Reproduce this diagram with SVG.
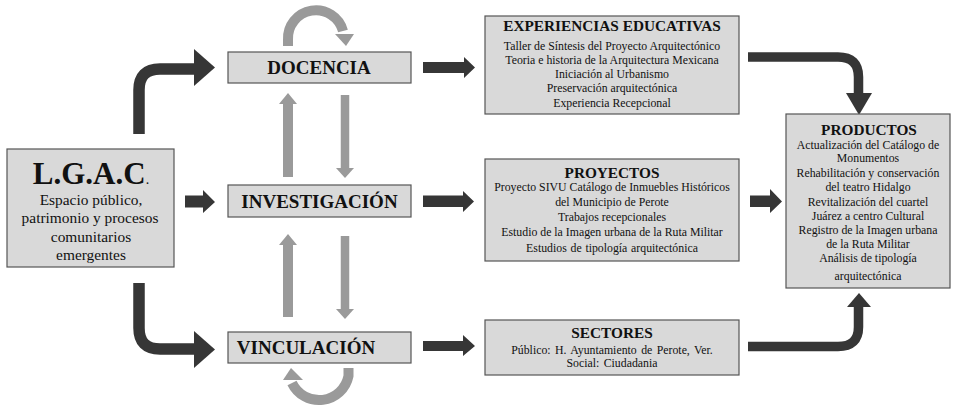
<svg xmlns="http://www.w3.org/2000/svg" width="953" height="406" viewBox="0 0 953 406">
<style>
.box{fill:#d9d9d9;stroke:#555;stroke-width:1.2}
.t{font-family:"Liberation Serif","Times New Roman",serif;fill:#111;text-anchor:middle}
.b{font-weight:bold}
.axis{font-size:19px;font-weight:bold}
.ttl{font-size:15.3px;font-weight:bold}
.bd{font-size:11.8px}
.blk{fill:none;stroke:#363636;stroke-width:11.5}
.blkh{fill:#363636}
.gry{fill:none;stroke:#9a9a9a;stroke-width:10}
.gryh{fill:#9a9a9a}
</style>
<rect width="953" height="406" fill="#fff"/>
<g id="connectors">
  <path class="blk" d="M139,134 L139,90 Q139,69 160,69 L198,69"/>
  <polygon class="blkh" points="194,49 215,67.5 194,86"/>
  <polygon class="blkh" points="185,195.5 203,195.5 203,190 215,202 203,213 203,207.5 185,207.5"/>
  <path class="blk" d="M139,283 L139,328 Q139,349 160,349 L198,349"/>
  <polygon class="blkh" points="194,331 215,349.5 194,368"/>
  <polygon class="blkh" points="423,62 464,62 464,57 475,67.5 464,78 464,73 423,73"/>
  <polygon class="blkh" points="423,195.5 463,195.5 463,191 474,201.5 463,212 463,207 423,207"/>
  <polygon class="blkh" points="423,341 463,341 463,335 475,346 463,356 463,351 423,351"/>
  <path class="blk" d="M748,57 L838,57 Q858.5,57 858.5,77 L858.5,95" style="stroke-width:9.5"/>
  <polygon class="blkh" points="846,93 872,93 859,115"/>
  <polygon class="blkh" points="750,195.5 770,195.5 770,189 782,201.5 770,213 770,207 750,207"/>
  <path class="blk" d="M748,346.5 L838,346.5 Q858.5,346.5 858.5,327 L858.5,305" style="stroke-width:9.5"/>
  <polygon class="blkh" points="847,307 871,307 859,293"/>
  <path class="gry" d="M288,46 L288,40 A28,28 0 0 1 343,31"/>
  <polygon class="gryh" points="335,34 354,34 346,46"/>
  <path class="gry" d="M348.5,368 L348.5,376 A30,30 0 0 1 292,383"/>
  <polygon class="gryh" points="283,380 303,380 291,368"/>
  <line class="gry" x1="288" y1="177" x2="288" y2="102"/>
  <polygon class="gryh" points="279,104 297,104 288,93"/>
  <line class="gry" x1="345" y1="95" x2="345" y2="169" style="stroke-width:8.5"/>
  <polygon class="gryh" points="336,168 354,168 345,178"/>
  <line class="gry" x1="288" y1="317" x2="288" y2="243"/>
  <polygon class="gryh" points="279,245 297,245 288,234"/>
  <line class="gry" x1="345" y1="236" x2="345" y2="310" style="stroke-width:8.5"/>
  <polygon class="gryh" points="336,309 354,309 345,319"/>
</g>
<g id="lgac">
  <rect class="box" x="7" y="149" width="167" height="118"/>
  <text class="t b" x="91" y="184" style="font-size:31px">L.G.A.C<tspan style="font-weight:normal;font-size:14px">.</tspan></text>
  <text class="t" style="font-size:15.4px" x="91" y="205">Espacio público,</text>
  <text class="t" style="font-size:15.4px" x="90" y="223">patrimonio y procesos</text>
  <text class="t" style="font-size:15.4px" x="91" y="242">comunitarios</text>
  <text class="t" style="font-size:15.4px" x="91" y="260">emergentes</text>
</g>
<g id="docencia">
  <rect class="box" x="228" y="52" width="183" height="31"/>
  <text class="t axis" x="319" y="74">DOCENCIA</text>
</g>
<g id="investigacion">
  <rect class="box" x="228" y="185" width="183" height="32"/>
  <text class="t axis" x="319.5" y="207.5">INVESTIGACIÓN</text>
</g>
<g id="vinculacion">
  <rect class="box" x="228" y="332" width="183" height="31"/>
  <text class="t axis" x="306" y="354">VINCULACIÓN</text>
</g>
<g id="experiencias">
  <rect class="box" x="485" y="16" width="254" height="98"/>
  <text class="t ttl" x="612" y="31">EXPERIENCIAS EDUCATIVAS</text>
  <text class="t bd" x="612" y="50">Taller de Síntesis del Proyecto Arquitectónico</text>
  <text class="t bd" x="612" y="64">Teoria e historia de la Arquitectura Mexicana</text>
  <text class="t bd" x="612" y="78">Iniciación  al Urbanismo</text>
  <text class="t bd" x="612" y="92">Preservación arquitectónica</text>
  <text class="t bd" x="612" y="107">Experiencia Recepcional</text>
</g>
<g id="proyectos">
  <rect class="box" x="485" y="159" width="254" height="102"/>
  <text class="t ttl" x="612" y="178">PROYECTOS</text>
  <text class="t bd" x="612" y="191">Proyecto SIVU Catálogo de Inmuebles Históricos</text>
  <text class="t bd" x="612" y="206">del Municipio  de Perote</text>
  <text class="t bd" x="612" y="221">Trabajos recepcionales</text>
  <text class="t bd" x="612" y="236">Estudio  de la Imagen urbana de la  Ruta Militar</text>
  <text class="t bd" x="612" y="252" style="word-spacing:0.8px">Estudios de tipología arquitectónica</text>
</g>
<g id="sectores">
  <rect class="box" x="485" y="320" width="254" height="55"/>
  <text class="t ttl" x="612" y="338">SECTORES</text>
  <text class="t bd" x="612" y="354" style="word-spacing:1.5px">Público: H. Ayuntamiento de Perote, Ver.</text>
  <text class="t bd" x="612" y="367" style="word-spacing:1.5px">Social: Ciudadania</text>
</g>
<g id="productos">
  <rect class="box" x="786" y="114" width="164" height="174"/>
  <text class="t ttl" x="869" y="135">PRODUCTOS</text>
  <text class="t bd" x="868" y="149">Actualización  del Catálogo de</text>
  <text class="t bd" x="868" y="162">Monumentos</text>
  <text class="t bd" x="868" y="177">Rehabilitación  y conservación</text>
  <text class="t bd" x="868" y="191">del teatro Hidalgo</text>
  <text class="t bd" x="868" y="206">Revitalización  del cuartel</text>
  <text class="t bd" x="868" y="220">Juárez a centro Cultural</text>
  <text class="t bd" x="868" y="234">Registro de la Imagen urbana</text>
  <text class="t bd" x="868" y="248">de la  Ruta Militar</text>
  <text class="t bd" x="868" y="262">Análisis  de tipología</text>
  <text class="t bd" x="868" y="280">arquitectónica</text>
</g>
</svg>
